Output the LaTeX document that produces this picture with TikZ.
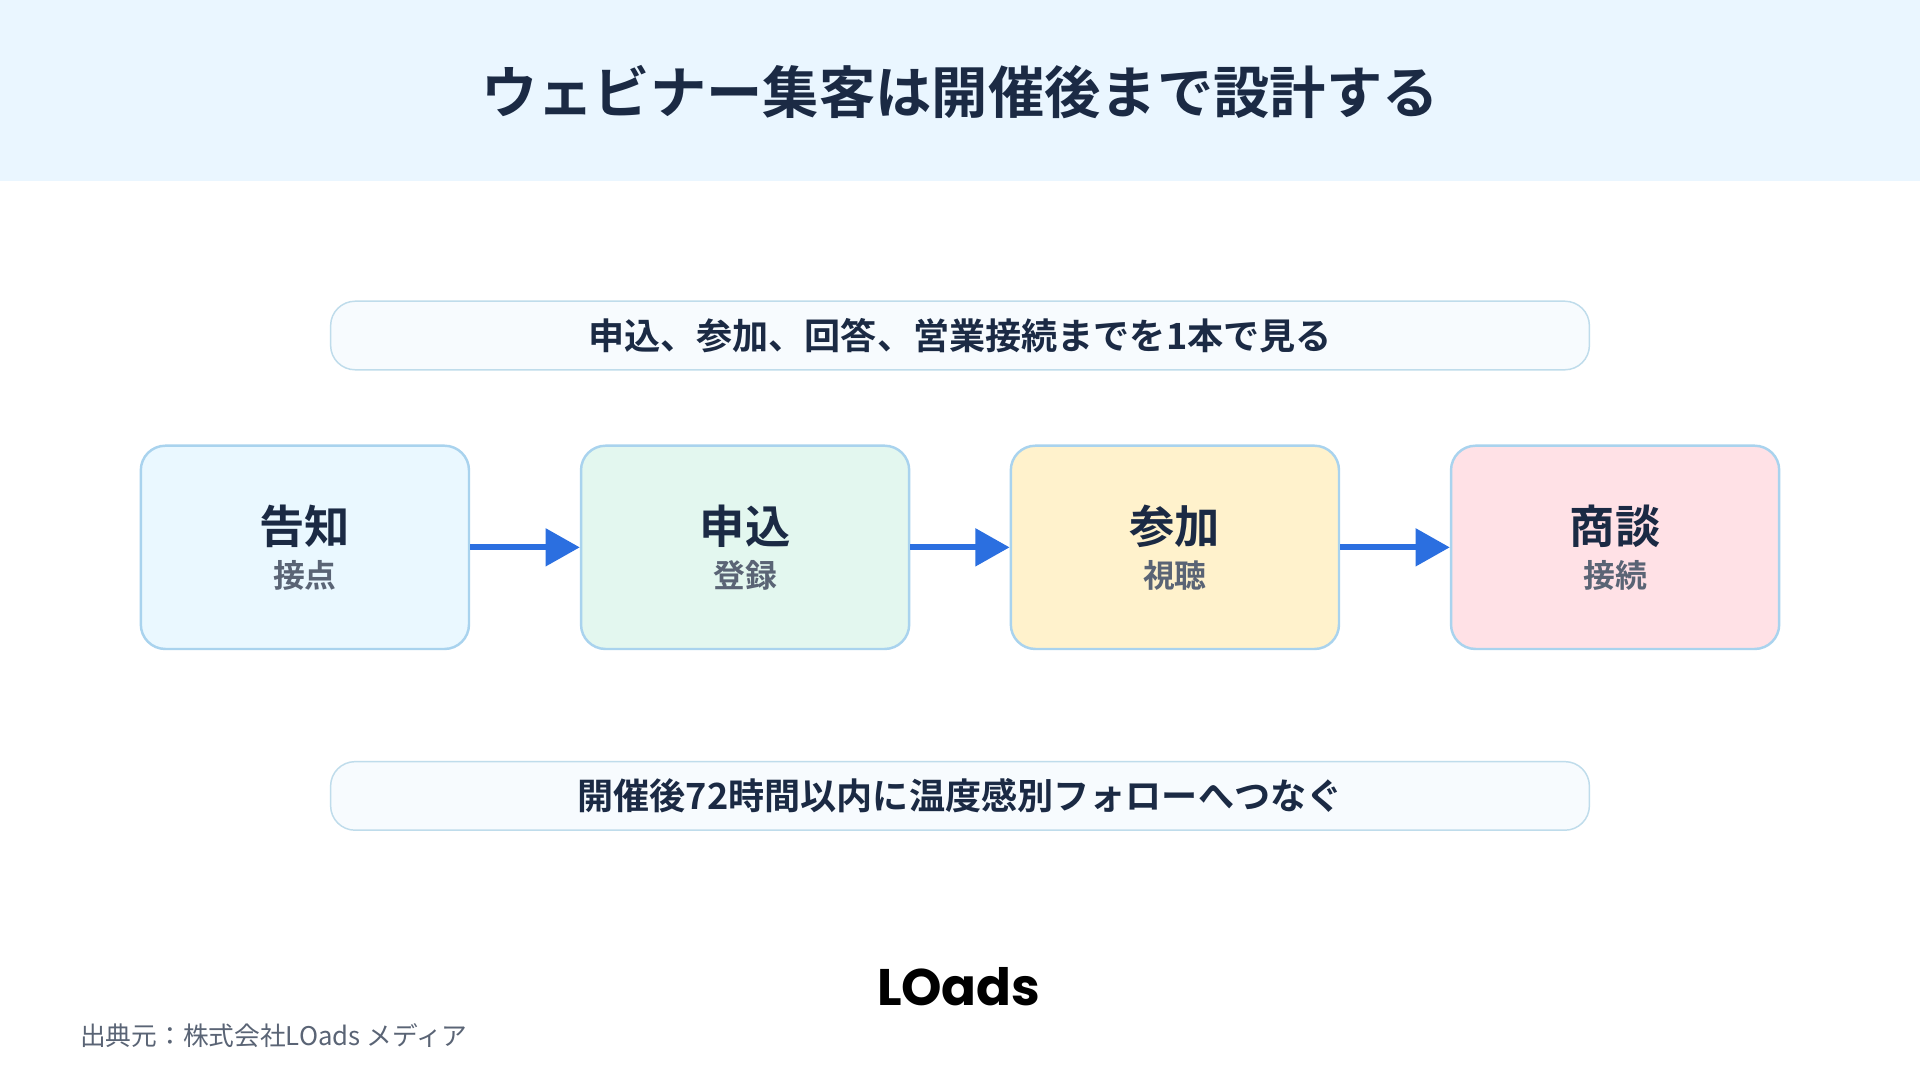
\documentclass[tikz,border=0pt]{standalone}
\usepackage{fontspec}
\setmainfont{Noto Sans CJK JP}
\newfontfamily\jpb{Noto Sans CJK JP Bold}
\usetikzlibrary{arrows.meta}
\definecolor{navy}{HTML}{1B2A44}
\definecolor{subg}{HTML}{5A6475}
\definecolor{band}{HTML}{EAF6FF}
\definecolor{pillf}{HTML}{F7FBFE}
\definecolor{pilld}{HTML}{BFDCEB}
\definecolor{boxd}{HTML}{A9D3EE}
\definecolor{arr}{HTML}{2B6FE0}
\definecolor{fa}{HTML}{EAF8FF}
\definecolor{fb}{HTML}{E3F7EF}
\definecolor{fc}{HTML}{FFF2CC}
\definecolor{fd}{HTML}{FFE1E6}
\tikzset{
 pill/.style={draw=pilld,line width=1.2pt,fill=pillf,rounded corners=20pt,minimum width=1028pt,minimum height=56pt,text=navy,font=\jpb\fontsize{29.5}{32}\selectfont},
 stage/.style={draw=boxd,line width=2pt,rounded corners=20pt,minimum width=268pt,minimum height=166pt},
 ttl/.style={text=navy,font=\jpb\fontsize{37}{40}\selectfont},
 sub/.style={text=subg,font=\jpb\fontsize{26}{30}\selectfont},
 flow/.style={draw=arr,line width=5pt,-{Triangle[length=28pt,width=30pt]}}
}
\begin{document}
\begin{tikzpicture}[x=1pt,y=-1pt]
\useasboundingbox (0,0) rectangle (1568,882);
\fill[white] (0,0) rectangle (1568,882);
\fill[band] (0,0) rectangle (1568,148);
\node[text=navy,font=\jpb\fontsize{46}{50}\selectfont] (title) at (784,75) {ウェビナー集客は開催後まで設計する};
\node[pill] (top) at (784,274) {申込、参加、回答、営業接続までを1本で見る};
\node[pill] (bot) at (784,650) {開催後72時間以内に温度感別フォローへつなぐ};
\node[stage,fill=fa] (b1) at (249,447) {};
\node[stage,fill=fb] (b2) at (608.5,447) {};
\node[stage,fill=fc] (b3) at (959.5,447) {};
\node[stage,fill=fd] (b4) at (1319,447) {};
\foreach \n/\t/\s in {b1/告知/接点,b2/申込/登録,b3/参加/視聴,b4/商談/接続}{
 \node[ttl] (\n t) at ([yshift=17pt]\n.center) {\t};
 \node[sub] (\n s) at ([yshift=-23pt]\n.center) {\s};
}
\draw[flow] (b1.east) -- (b2.west);
\draw[flow] (b2.east) -- (b3.west);
\draw[flow] (b3.east) -- (b4.west);
\node[text=black,font=\fontspec{Poppins Bold}\fontsize{42}{44}\selectfont] (logo) at (783,806) {LOads};
\node[anchor=west,text=subg,font=\fontsize{21}{24}\selectfont] (src) at (62,846) {出典元：株式会社LOads メディア};
\end{tikzpicture}
\end{document}
